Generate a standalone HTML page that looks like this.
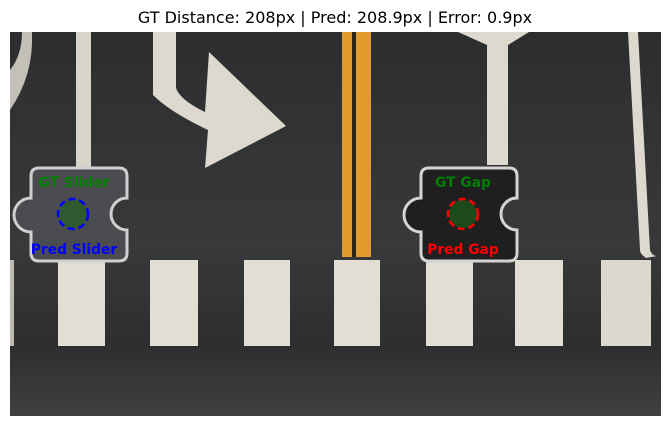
<!DOCTYPE html>
<html><head><meta charset="utf-8"><style>
html,body{margin:0;padding:0;background:#fff;width:670px;height:427px;overflow:hidden;font-family:"Liberation Sans","DejaVu Sans",sans-serif}
</style></head><body>
<svg width="670" height="427" viewBox="0 0 670 427">
<text x="335" y="23" text-anchor="middle" font-size="16" fill="#000" font-family="DejaVu Sans, sans-serif">GT Distance: 208px | Pred: 208.9px | Error: 0.9px</text>
<defs>
<linearGradient id="bg" x1="0" y1="0" x2="0" y2="1">
<stop offset="0" stop-color="#2c2d2f"/><stop offset="0.55" stop-color="#38393b"/><stop offset="0.82" stop-color="#2d2e30"/><stop offset="1" stop-color="#3f4042"/>
</linearGradient>
</defs>
<g>
<rect x="10" y="32" width="651" height="384" fill="url(#bg)"/>
<path d="M10 70 Q22 55 22 32 L32 32 Q34 75 10 110 Z" fill="#ddd9cf" opacity="0.85"/>
<rect x="76" y="32" width="15" height="135" fill="#d8d4ca"/>
<path d="M153 32 H176 V88 Q180 100 205 112 L209 52 L286 126 L205 168 L208 130 Q170 112 153 95 Z" fill="#ddd9cf"/>
<rect x="342" y="32" width="10" height="225" fill="#e39a2c"/>
<rect x="352" y="32" width="4" height="225" fill="#2a2418"/>
<rect x="356" y="32" width="15" height="225" fill="#e39a2c"/>
<path d="M458 32 L529 32 L508 45 V165 H487 V45 Z" fill="#ddd9cf"/>
<path d="M628 32 H638 L650 250 Q652 256 657 256 L646 258 Q640 254 640 250 Z" fill="#ddd9cf"/>
<rect x="58" y="260" width="47" height="86" fill="#e2ded4"/>
<rect x="150" y="260" width="48" height="86" fill="#e2ded4"/>
<rect x="244" y="260" width="46" height="86" fill="#e2ded4"/>
<rect x="334" y="260" width="46" height="86" fill="#e2ded4"/>
<rect x="426" y="260" width="47" height="86" fill="#e2ded4"/>
<rect x="515" y="260" width="48" height="86" fill="#e2ded4"/>
<rect x="601" y="260" width="50" height="86" fill="#dcd8ce"/>
<rect x="10" y="260" width="4" height="86" fill="#bdb9b0"/>
</g>
<path d="M39 168 H119 Q127 168 127 176 V198 A16 16 0 0 0 127 230 V253 Q127 261 119 261 H39 Q31 261 31 253 V232 A17 17 0 1 1 31 198 V176 Q31 168 39 168 Z" fill="#4a4c50" stroke="#cfcfcf" stroke-width="3"/>
<path d="M429 168 H509 Q517 168 517 176 V198 A16 16 0 0 0 517 230 V253 Q517 261 509 261 H429 Q421 261 421 253 V232 A17 17 0 1 1 421 198 V176 Q421 168 429 168 Z" fill="#1f1f20" stroke="#d4d4d4" stroke-width="3"/>
<circle cx="73" cy="214" r="14" fill="#2f5a30"/>
<circle cx="73" cy="214" r="15" fill="none" stroke="#0000ff" stroke-width="2.5" stroke-dasharray="7 4"/>
<circle cx="463" cy="214" r="14" fill="#1c4a1c"/>
<circle cx="463" cy="214" r="15" fill="none" stroke="#ff0000" stroke-width="2.5" stroke-dasharray="7 4"/>
<g font-weight="bold" font-size="13.8" text-anchor="middle" font-family="DejaVu Sans, sans-serif">
<text x="74" y="187" fill="#008000">GT Slider</text>
<text x="74" y="254" fill="#0000ff">Pred Slider</text>
<text x="463" y="187" fill="#008000">GT Gap</text>
<text x="463" y="254" fill="#ff0000">Pred Gap</text>
</g>
</svg>
</body></html>
